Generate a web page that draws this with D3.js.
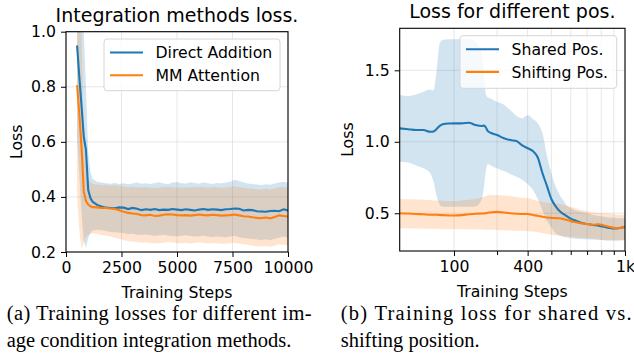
<!DOCTYPE html>
<html><head><meta charset="utf-8">
<script src="https://cdn.jsdelivr.net/npm/d3@7"></script>
<style>
body{margin:0;background:#fff;}
svg{display:block;}
text{font-family:"DejaVu Sans",sans-serif;fill:#000;}
.cap{font-family:"Liberation Serif","Times New Roman",serif;}
</style></head>
<body>
<svg id="fig" width="634" height="358"></svg>
<script>
// ---------- Panel (a) data ----------
const stepsA = [500,600,700,800,900,1000,1100,1200,1400,1600,1800,2000,2200,2400,2600,2800,3000,3200,3400,3600,3800,4000,4200,4400,4600,4800,5000,5200,5400,5600,5800,6000,6200,6400,6600,6800,7000,7200,7400,7600,7800,8000,8200,8400,8600,8800,9000,9200,9400,9600,9800,10000];
const directMean = [0.95,0.835,0.73,0.62,0.57,0.425,0.396,0.382,0.371,0.365,0.361,0.360,0.359,0.362,0.361,0.356,0.360,0.357,0.352,0.355,0.353,0.356,0.352,0.354,0.353,0.356,0.354,0.352,0.355,0.353,0.351,0.354,0.356,0.353,0.355,0.354,0.352,0.355,0.356,0.358,0.357,0.351,0.353,0.352,0.348,0.347,0.346,0.349,0.350,0.348,0.355,0.351];
const directHi = [1.30,1.25,1.15,1.00,0.80,0.56,0.49,0.465,0.455,0.452,0.450,0.448,0.451,0.447,0.450,0.446,0.449,0.452,0.448,0.450,0.447,0.451,0.453,0.449,0.447,0.452,0.454,0.450,0.449,0.453,0.451,0.448,0.452,0.450,0.447,0.451,0.449,0.452,0.455,0.462,0.458,0.452,0.449,0.447,0.445,0.443,0.446,0.444,0.449,0.452,0.455,0.451];
const directLo = [0.62,0.48,0.34,0.24,0.215,0.25,0.27,0.278,0.281,0.279,0.276,0.273,0.272,0.270,0.268,0.265,0.266,0.263,0.262,0.264,0.261,0.259,0.261,0.263,0.260,0.258,0.257,0.259,0.261,0.258,0.256,0.257,0.259,0.256,0.254,0.256,0.255,0.253,0.256,0.258,0.254,0.250,0.249,0.247,0.245,0.244,0.246,0.243,0.248,0.252,0.256,0.252];
const mmMean = [0.806,0.70,0.58,0.42,0.385,0.372,0.366,0.363,0.362,0.360,0.360,0.358,0.356,0.352,0.346,0.342,0.340,0.338,0.334,0.333,0.335,0.331,0.332,0.335,0.337,0.336,0.334,0.333,0.334,0.332,0.334,0.336,0.334,0.333,0.335,0.334,0.332,0.333,0.334,0.336,0.333,0.330,0.329,0.326,0.324,0.323,0.325,0.322,0.327,0.333,0.331,0.329];
const mmHi = [1.20,1.12,0.98,0.62,0.50,0.465,0.452,0.447,0.445,0.442,0.444,0.441,0.443,0.440,0.438,0.436,0.437,0.435,0.433,0.436,0.434,0.432,0.434,0.436,0.437,0.435,0.434,0.433,0.435,0.434,0.436,0.437,0.435,0.433,0.436,0.435,0.433,0.434,0.436,0.439,0.436,0.433,0.431,0.430,0.428,0.427,0.430,0.427,0.431,0.436,0.435,0.432];
const mmLo = [0.41,0.28,0.21,0.235,0.255,0.262,0.266,0.268,0.266,0.262,0.259,0.256,0.252,0.248,0.243,0.240,0.238,0.236,0.234,0.235,0.233,0.231,0.232,0.234,0.236,0.235,0.233,0.232,0.234,0.231,0.233,0.235,0.233,0.231,0.233,0.232,0.230,0.231,0.232,0.234,0.231,0.228,0.226,0.223,0.221,0.220,0.222,0.219,0.223,0.228,0.226,0.225];
const seriesNamesA = ["Direct Addition","MM Attention"];
const xTicksA = [0,2500,5000,7500,10000];
const yTicksA = [0.2,0.4,0.6,0.8,1.0];

// ---------- Panel (b) data ----------
const stepsB = [120,130,140,150,160,165,170,175,180,190,200,215,230,245,260,265,270,275,285,300,320,340,360,380,400,420,440,460,480,500,520,540,560,580,600,630,660,700,740,780,820,860,900,950,1000];
const sharedMean = [1.094,1.088,1.082,1.082,1.070,1.072,1.090,1.112,1.122,1.128,1.129,1.129,1.133,1.117,1.110,1.113,1.100,1.075,1.060,1.047,1.025,1.012,1.005,0.975,0.955,0.935,0.890,0.780,0.690,0.600,0.550,0.515,0.495,0.478,0.462,0.447,0.434,0.425,0.418,0.413,0.406,0.398,0.393,0.397,0.405];
const sharedHi = [1.327,1.320,1.330,1.350,1.366,1.360,1.500,1.690,1.712,1.717,1.717,1.717,1.717,1.700,1.620,1.500,1.330,1.310,1.300,1.280,1.260,1.220,1.180,1.165,1.185,1.160,1.130,1.060,0.900,0.780,0.690,0.630,0.590,0.550,0.535,0.520,0.510,0.500,0.490,0.480,0.476,0.470,0.468,0.465,0.465];
const sharedLo = [0.860,0.855,0.835,0.815,0.780,0.720,0.620,0.560,0.545,0.545,0.545,0.545,0.545,0.548,0.600,0.680,0.800,0.845,0.830,0.815,0.795,0.775,0.755,0.735,0.705,0.665,0.600,0.520,0.450,0.400,0.360,0.345,0.335,0.330,0.325,0.322,0.320,0.318,0.316,0.314,0.312,0.310,0.309,0.310,0.310];
const shiftMean = [0.500,0.498,0.495,0.493,0.490,0.490,0.490,0.488,0.487,0.485,0.484,0.487,0.493,0.497,0.498,0.499,0.500,0.503,0.507,0.510,0.505,0.500,0.497,0.495,0.495,0.488,0.482,0.475,0.470,0.468,0.466,0.465,0.460,0.453,0.445,0.437,0.430,0.425,0.420,0.423,0.415,0.405,0.398,0.395,0.408];
const shiftHi = [0.600,0.598,0.597,0.595,0.592,0.590,0.590,0.589,0.588,0.586,0.585,0.590,0.595,0.600,0.610,0.615,0.620,0.625,0.627,0.628,0.624,0.620,0.613,0.608,0.605,0.597,0.585,0.578,0.573,0.570,0.568,0.565,0.560,0.552,0.545,0.535,0.523,0.515,0.505,0.502,0.500,0.496,0.492,0.490,0.488];
const shiftLo = [0.395,0.394,0.393,0.392,0.391,0.391,0.390,0.390,0.390,0.390,0.390,0.389,0.388,0.387,0.386,0.385,0.385,0.384,0.384,0.383,0.381,0.379,0.377,0.376,0.375,0.372,0.368,0.362,0.356,0.350,0.346,0.343,0.340,0.337,0.335,0.331,0.328,0.325,0.320,0.316,0.313,0.311,0.310,0.312,0.315];
const seriesNamesB = ["Shared Pos.","Shifting Pos."];
const xMajorB = [200,400,1000];
const xMajorLabelsB = ["100","400","1k"];
const xMinorB = [300,500,600,700,800,900];
const yTicksB = [0.5,1.0,1.5];

const captionA = ["(a) Training losses for different im-","age condition integration methods."];
const captionB = ["(b) Training loss for shared vs.","shifting position."];

// ---------- drawing ----------
const BLUE = "#1f77b4", ORANGE = "#ff7f0e";
const svg = d3.select("#fig");
const FS = 15.7;

function panel(cfg){
  const g = svg.append("g");
  const x = cfg.x, y = cfg.y;
  const [x0,x1] = x.range(), [y0,y1] = y.range();
  const clipId = "clip"+cfg.id;
  g.append("clipPath").attr("id",clipId).append("rect")
    .attr("x",x0).attr("y",y1).attr("width",x1-x0).attr("height",y0-y1);
  // grid
  const grid = g.append("g");
  cfg.gridX.forEach(v=>grid.append("line").attr("x1",x(v)).attr("x2",x(v)).attr("y1",y0).attr("y2",y1)
      .attr("stroke","#b0b0b0").attr("stroke-opacity",0.35).attr("stroke-width",0.9));
  cfg.gridY.forEach(v=>grid.append("line").attr("x1",x0).attr("x2",x1).attr("y1",y(v)).attr("y2",y(v))
      .attr("stroke","#b0b0b0").attr("stroke-opacity",0.35).attr("stroke-width",0.9));
  const plot = g.append("g").attr("clip-path",`url(#${clipId})`);
  cfg.series.forEach(s=>{
    const data = cfg.steps.map((t,i)=>({t,m:s.mean[i],hi:s.hi[i],lo:s.lo[i]}));
    plot.append("path").datum(data)
      .attr("d",d3.area().x(d=>x(d.t)).y0(d=>y(d.lo)).y1(d=>y(d.hi)).curve(cfg.curve))
      .attr("fill",s.color).attr("fill-opacity",0.2);
  });
  cfg.series.forEach(s=>{
    const data = cfg.steps.map((t,i)=>({t,m:s.mean[i]}));
    plot.append("path").datum(data)
      .attr("d",d3.line().x(d=>x(d.t)).y(d=>y(d.m)).curve(cfg.curve))
      .attr("fill","none").attr("stroke",s.color).attr("stroke-width",2.1);
  });
  // axes
  g.append("g").attr("transform",`translate(0,${y0})`)
    .call(d3.axisBottom(x).tickValues(cfg.xTicks).tickFormat(cfg.xFormat).tickSize(5).tickPadding(5));
  if(cfg.xMinor){
    g.append("g").attr("transform",`translate(0,${y0})`)
      .call(d3.axisBottom(x).tickValues(cfg.xMinor).tickFormat("").tickSize(4))
      .call(a=>a.select(".domain").remove());
  }
  g.append("g").attr("transform",`translate(${x0},0)`)
    .call(d3.axisLeft(y).tickValues(cfg.yTicks).tickFormat(d3.format(".1f")).tickSize(5).tickPadding(5));
  g.selectAll(".tick text").attr("font-size",FS).attr("font-family","DejaVu Sans").attr("fill","#000");
  g.selectAll(".tick line").attr("stroke","#000").attr("stroke-width",1);
  g.selectAll(".domain").remove();
  g.append("rect").attr("x",x0).attr("y",y1).attr("width",x1-x0).attr("height",y0-y1)
    .attr("fill","none").attr("stroke","#000").attr("stroke-width",1.1);
  // labels
  g.append("text").attr("x",(x0+x1)/2).attr("y",y0+46).attr("text-anchor","middle").attr("font-size",FS).text("Training Steps");
  g.append("text").attr("transform",`translate(${cfg.ylabX},${(y0+y1)/2}) rotate(-90)`).attr("text-anchor","middle").attr("font-size",FS).text("Loss");
  g.append("text").attr("x",(x0+x1)/2).attr("y",cfg.titleY).attr("text-anchor","middle").attr("font-size",19).text(cfg.title);
  // legend
  const L = cfg.legend;
  const lg = g.append("g");
  lg.append("rect").attr("x",L.x).attr("y",L.y).attr("width",L.w).attr("height",L.h).attr("rx",3)
    .attr("fill","#fff").attr("fill-opacity",0.8).attr("stroke","#d6d6d6").attr("stroke-width",1);
  cfg.series.forEach((s,i)=>{
    const ly = L.y + 13.5 + i*22.7;
    lg.append("line").attr("x1",L.x+6).attr("x2",L.x+39).attr("y1",ly).attr("y2",ly).attr("stroke",s.color).attr("stroke-width",2.1);
    lg.append("text").attr("x",L.x+51.5).attr("y",ly).attr("dy","0.36em").attr("font-size",FS).text(s.name);
  });
  // caption
  cfg.caption.forEach((line,i)=>{
    const t = g.append("text").attr("class","cap").attr("x",cfg.capX).attr("y",320+i*26.5)
      .attr("font-size",20.5).text(line);
    if(i===0) t.attr("textLength",cfg.capW).attr("lengthAdjust","spacing");
  });
}

panel({
  id:"a",
  steps: stepsA,
  x: d3.scaleLinear().domain([0,10000]).range([66,288]),
  y: d3.scaleLinear().domain([0.2,1.0]).range([252,31.7]),
  curve: d3.curveLinear,
  series:[
    {name:seriesNamesA[0],color:BLUE,mean:directMean,hi:directHi,lo:directLo},
    {name:seriesNamesA[1],color:ORANGE,mean:mmMean,hi:mmHi,lo:mmLo}],
  xTicks:xTicksA, xFormat:d3.format("d"), yTicks:yTicksA,
  gridX:xTicksA, gridY:yTicksA,
  ylabX:21.7, titleY:21.7, title:"Integration methods loss.",
  legend:{x:104,y:39,w:176,h:51.7},
  caption:captionA, capX:6.7, capW:305
});

const xB = d3.scaleLog().domain([120,1000]).range([399.7,625]);
panel({
  id:"b",
  steps: stepsB,
  x: xB,
  y: d3.scaleLinear().domain([0.236,1.794]).range([251,28.3]),
  curve: d3.curveMonotoneX,
  series:[
    {name:seriesNamesB[0],color:BLUE,mean:sharedMean,hi:sharedHi,lo:sharedLo},
    {name:seriesNamesB[1],color:ORANGE,mean:shiftMean,hi:shiftHi,lo:shiftLo}],
  xTicks:xMajorB, xFormat:(d,i)=>xMajorLabelsB[i], xMinor:xMinorB, yTicks:yTicksB,
  gridX:xMajorB.concat(xMinorB), gridY:yTicksB,
  ylabX:353.3, titleY:18.3, title:"Loss for different pos.",
  legend:{x:460,y:35.7,w:156.7,h:52.6},
  caption:captionB, capX:340.7, capW:291
});
</script>
</body></html>
